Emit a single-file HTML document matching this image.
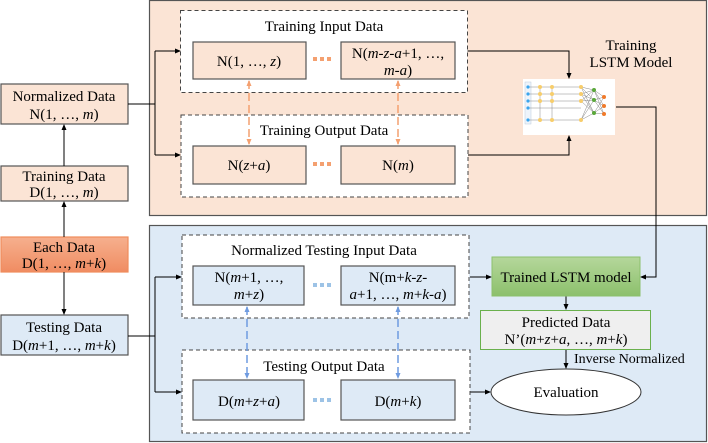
<!DOCTYPE html>
<html><head><meta charset="utf-8"><style>
html,body{margin:0;padding:0;background:#fff;font-family:"Liberation Serif","Times New Roman","DejaVu Serif",serif;}
svg{display:block;}
svg text{font-family:"Liberation Serif","Times New Roman","DejaVu Serif",serif !important;}
</style></head><body>
<svg width="708" height="443" viewBox="0 0 708 443" xmlns="http://www.w3.org/2000/svg">
<defs>
<marker id="a" markerWidth="6" markerHeight="6" refX="5" refY="3" orient="auto" markerUnits="userSpaceOnUse"><path d="M0,0.5 L6,3 L0,5.5z" fill="#000"/></marker>
<marker id="ao" markerWidth="6" markerHeight="6" refX="5" refY="3" orient="auto-start-reverse" markerUnits="userSpaceOnUse"><path d="M0,0.5 L6,3 L0,5.5z" fill="#f4a070"/></marker>
<marker id="ab" markerWidth="6" markerHeight="6" refX="5" refY="3" orient="auto-start-reverse" markerUnits="userSpaceOnUse"><path d="M0,0.5 L6,3 L0,5.5z" fill="#6f9be0"/></marker>
<linearGradient id="og" x1="0" y1="0" x2="0" y2="1"><stop offset="0" stop-color="#f6b08e"/><stop offset="1" stop-color="#f08c62"/></linearGradient>
<linearGradient id="gg" x1="0" y1="0" x2="0" y2="1"><stop offset="0" stop-color="#b5d79b"/><stop offset="1" stop-color="#8cc06c"/></linearGradient>
</defs>
<rect x="149.5" y="0.5" width="557" height="215" fill="#fbe4d5" stroke="#555" stroke-width="1.2"/>
<rect x="149.5" y="225.5" width="557" height="216" fill="#deeaf6" stroke="#555" stroke-width="1.2"/>

<g font-size="15" text-anchor="middle">
<rect x="1" y="84" width="127" height="40" fill="#fbe4d5" stroke="#555" stroke-width="1.2"/>
<text x="64" y="101">Normalized Data</text><text x="64" y="119">N(1, …, <tspan font-style="italic">m</tspan>)</text>
<rect x="1" y="166" width="127" height="35" fill="#fbe4d5" stroke="#555" stroke-width="1.2"/>
<text x="64" y="181">Training Data</text><text x="64" y="197">D(1, …, <tspan font-style="italic">m</tspan>)</text>
<rect x="1" y="237" width="127" height="35" fill="url(#og)" stroke="#f08c5c" stroke-width="1.2"/>
<text x="64" y="252">Each Data</text><text x="64" y="268">D(1, …, <tspan font-style="italic">m</tspan>+<tspan font-style="italic">k</tspan>)</text>
<rect x="1" y="315" width="127" height="40" fill="#deeaf6" stroke="#555" stroke-width="1.2"/>
<text x="64" y="332">Testing Data</text><text x="64" y="350">D(<tspan font-style="italic">m</tspan>+1, …, <tspan font-style="italic">m</tspan>+<tspan font-style="italic">k</tspan>)</text>
</g>
<g stroke="#000" stroke-width="1" fill="none">
<line x1="64" y1="237" x2="64" y2="202" marker-end="url(#a)"/>
<line x1="64" y1="166" x2="64" y2="125" marker-end="url(#a)"/>
<line x1="64" y1="272" x2="64" y2="314" marker-end="url(#a)"/>
<polyline points="128,104 155,104"/>
<polyline points="155,51 155,155"/>
<line x1="155" y1="51" x2="180" y2="51" marker-end="url(#a)"/>
<line x1="155" y1="155" x2="180" y2="155" marker-end="url(#a)"/>
<polyline points="128,336 155,336"/>
<polyline points="155,277 155,392"/>
<line x1="155" y1="277" x2="181" y2="277" marker-end="url(#a)"/>
<line x1="155" y1="392" x2="181" y2="392" marker-end="url(#a)"/>
<polyline points="455,51 569,51 569,78" marker-end="url(#a)"/>
<polyline points="468,155 569,155 569,136" marker-end="url(#a)"/>
<polyline points="616,107 656,107 656,277 641,277" marker-end="url(#a)"/>
<line x1="470" y1="277" x2="491" y2="277" marker-end="url(#a)"/>
<line x1="470" y1="392" x2="490" y2="392" marker-end="url(#a)"/>
<line x1="566" y1="296" x2="566" y2="309" marker-end="url(#a)"/>
<line x1="566" y1="350" x2="566" y2="368" marker-end="url(#a)"/>
</g>
<g fill="#fff" stroke="#444" stroke-width="1" stroke-dasharray="4,3">
<rect x="180.5" y="10.5" width="287" height="82"/>
<rect x="181" y="115" width="287" height="82"/>
<rect x="182" y="235" width="287" height="83"/>
<rect x="182" y="350" width="288" height="83"/>
</g>
<g font-size="15" text-anchor="middle">
<text x="324" y="31">Training Input Data</text>
<text x="324" y="135">Training Output Data</text>
<text x="324" y="255">Normalized Testing Input Data</text>
<text x="324" y="371">Testing Output Data</text>
<g stroke="#555" stroke-width="1.2">
<rect x="193" y="42" width="113" height="37" fill="#fbe4d5"/>
<rect x="341" y="42" width="114" height="37" fill="#fbe4d5"/>
<rect x="193" y="146" width="113" height="38" fill="#fbe4d5"/>
<rect x="341" y="146" width="114" height="38" fill="#fbe4d5"/>
<rect x="193" y="266" width="111" height="39" fill="#deeaf6"/>
<rect x="341" y="266" width="114" height="39" fill="#deeaf6"/>
<rect x="193" y="380" width="111" height="40" fill="#deeaf6"/>
<rect x="341" y="380" width="114" height="40" fill="#deeaf6"/>
</g>
<text x="249" y="66">N(1, …, <tspan font-style="italic">z</tspan>)</text>
<text x="398" y="58">N(<tspan font-style="italic">m-z-a</tspan>+1, …,</text>
<text x="398" y="75"><tspan font-style="italic">m-a</tspan>)</text>
<text x="249" y="170">N(<tspan font-style="italic">z</tspan>+<tspan font-style="italic">a</tspan>)</text>
<text x="398" y="170">N(<tspan font-style="italic">m</tspan>)</text>
<text x="249" y="282">N(<tspan font-style="italic">m</tspan>+1, …,</text>
<text x="249" y="299"><tspan font-style="italic">m</tspan>+<tspan font-style="italic">z</tspan>)</text>
<text x="398" y="282">N(m+<tspan font-style="italic">k-z</tspan>-</text>
<text x="398" y="299"><tspan font-style="italic">a</tspan>+1, …, <tspan font-style="italic">m</tspan>+<tspan font-style="italic">k-a</tspan>)</text>
<text x="249" y="406">D(<tspan font-style="italic">m</tspan>+<tspan font-style="italic">z</tspan>+<tspan font-style="italic">a</tspan>)</text>
<text x="398" y="406">D(<tspan font-style="italic">m</tspan>+<tspan font-style="italic">k</tspan>)</text>
<text x="631" y="50">Training</text>
<text x="631" y="67">LSTM Model</text>
</g>
<g fill="#f4a070"><rect x="313" y="57" width="4" height="4"/><rect x="320" y="57" width="4" height="4"/><rect x="327" y="57" width="4" height="4"/>
<rect x="313" y="162" width="4" height="4"/><rect x="320" y="162" width="4" height="4"/><rect x="327" y="162" width="4" height="4"/></g>
<g fill="#9dc3e6"><rect x="313" y="283" width="4" height="4"/><rect x="320" y="283" width="4" height="4"/><rect x="327" y="283" width="4" height="4"/>
<rect x="313" y="398" width="4" height="4"/><rect x="320" y="398" width="4" height="4"/><rect x="327" y="398" width="4" height="4"/></g>
<g stroke-width="1.5" stroke-dasharray="8,4">
<line x1="249" y1="81" x2="249" y2="144" stroke="#f4a070" marker-start="url(#ao)" marker-end="url(#ao)"/>
<line x1="398" y1="81" x2="398" y2="144" stroke="#f4a070" marker-start="url(#ao)" marker-end="url(#ao)"/>
<line x1="247" y1="307" x2="247" y2="378" stroke="#6f9be0" marker-start="url(#ab)" marker-end="url(#ab)"/>
<line x1="398" y1="307" x2="398" y2="378" stroke="#6f9be0" marker-start="url(#ab)" marker-end="url(#ab)"/>
</g>
<rect x="523" y="79" width="92" height="56" fill="#fff"/>
<rect x="525" y="82" width="6" height="42" fill="#eef4fb" stroke="#bcd" stroke-width="0.5"/>
<g stroke="#888" stroke-width="0.5" fill="none">
<line x1="527" y1="87" x2="581" y2="87"/><line x1="527" y1="94" x2="581" y2="94"/><line x1="527" y1="101" x2="581" y2="101"/><line x1="527" y1="108" x2="581" y2="108"/><line x1="527" y1="120" x2="581" y2="120"/>
<line x1="540" y1="87" x2="540" y2="120"/><line x1="552" y1="87" x2="552" y2="120"/>
<path d="M581,87 L594,90 M581,87 L594,100 M581,87 L594,113 M581,94 L594,90 M581,94 L594,100 M581,94 L594,113 M581,101 L594,90 M581,101 L594,100 M581,101 L594,113 M581,120 L594,90 M581,120 L594,100 M581,120 L594,113 M594,90 L604,97 M594,90 L604,106 M594,90 L604,114 M594,100 L604,97 M594,100 L604,106 M594,100 L604,114 M594,113 L604,97 M594,113 L604,106 M594,113 L604,114"/>
</g>
<g fill="#3aa5ee"><circle cx="528" cy="87" r="1.6"/><circle cx="528" cy="94" r="1.6"/><circle cx="528" cy="101" r="1.6"/><circle cx="528" cy="108" r="1.6"/><circle cx="528" cy="120" r="1.6"/></g>
<g fill="#f7cd6b"><circle cx="540" cy="87" r="2"/><circle cx="540" cy="94" r="2"/><circle cx="540" cy="101" r="2"/><circle cx="540" cy="120" r="2"/><circle cx="552" cy="87" r="2"/><circle cx="552" cy="94" r="2"/><circle cx="552" cy="101" r="2"/><circle cx="552" cy="120" r="2"/><circle cx="581" cy="87" r="2"/><circle cx="581" cy="94" r="2"/><circle cx="581" cy="101" r="2"/><circle cx="581" cy="120" r="2"/></g>
<g fill="#5aa83a"><circle cx="594" cy="90" r="2"/><circle cx="594" cy="100" r="2"/><circle cx="594" cy="113" r="2"/></g>
<g fill="#f07a2a"><circle cx="604" cy="97" r="2"/><circle cx="604" cy="106" r="2"/><circle cx="604" cy="114" r="2"/></g>
<rect x="492" y="257" width="148" height="39" fill="url(#gg)" stroke="#8cc06c"/>
<g font-size="15" text-anchor="middle">
<text x="566" y="282">Trained LSTM model</text>
<rect x="480.5" y="310.5" width="170" height="39" fill="#efefef" stroke="#6ab04c"/>
<text x="566" y="327">Predicted Data</text>
<text x="566" y="344">N’(<tspan font-style="italic">m</tspan>+<tspan font-style="italic">z</tspan>+<tspan font-style="italic">a</tspan>, …, <tspan font-style="italic">m</tspan>+<tspan font-style="italic">k</tspan>)</text>
<text x="574" y="363" text-anchor="start" font-size="14">Inverse Normalized</text>
<ellipse cx="566" cy="392" rx="75" ry="23" fill="#fff" stroke="#333" stroke-width="1"/>
<text x="566" y="397">Evaluation</text>
</g>
</svg>
</body></html>
